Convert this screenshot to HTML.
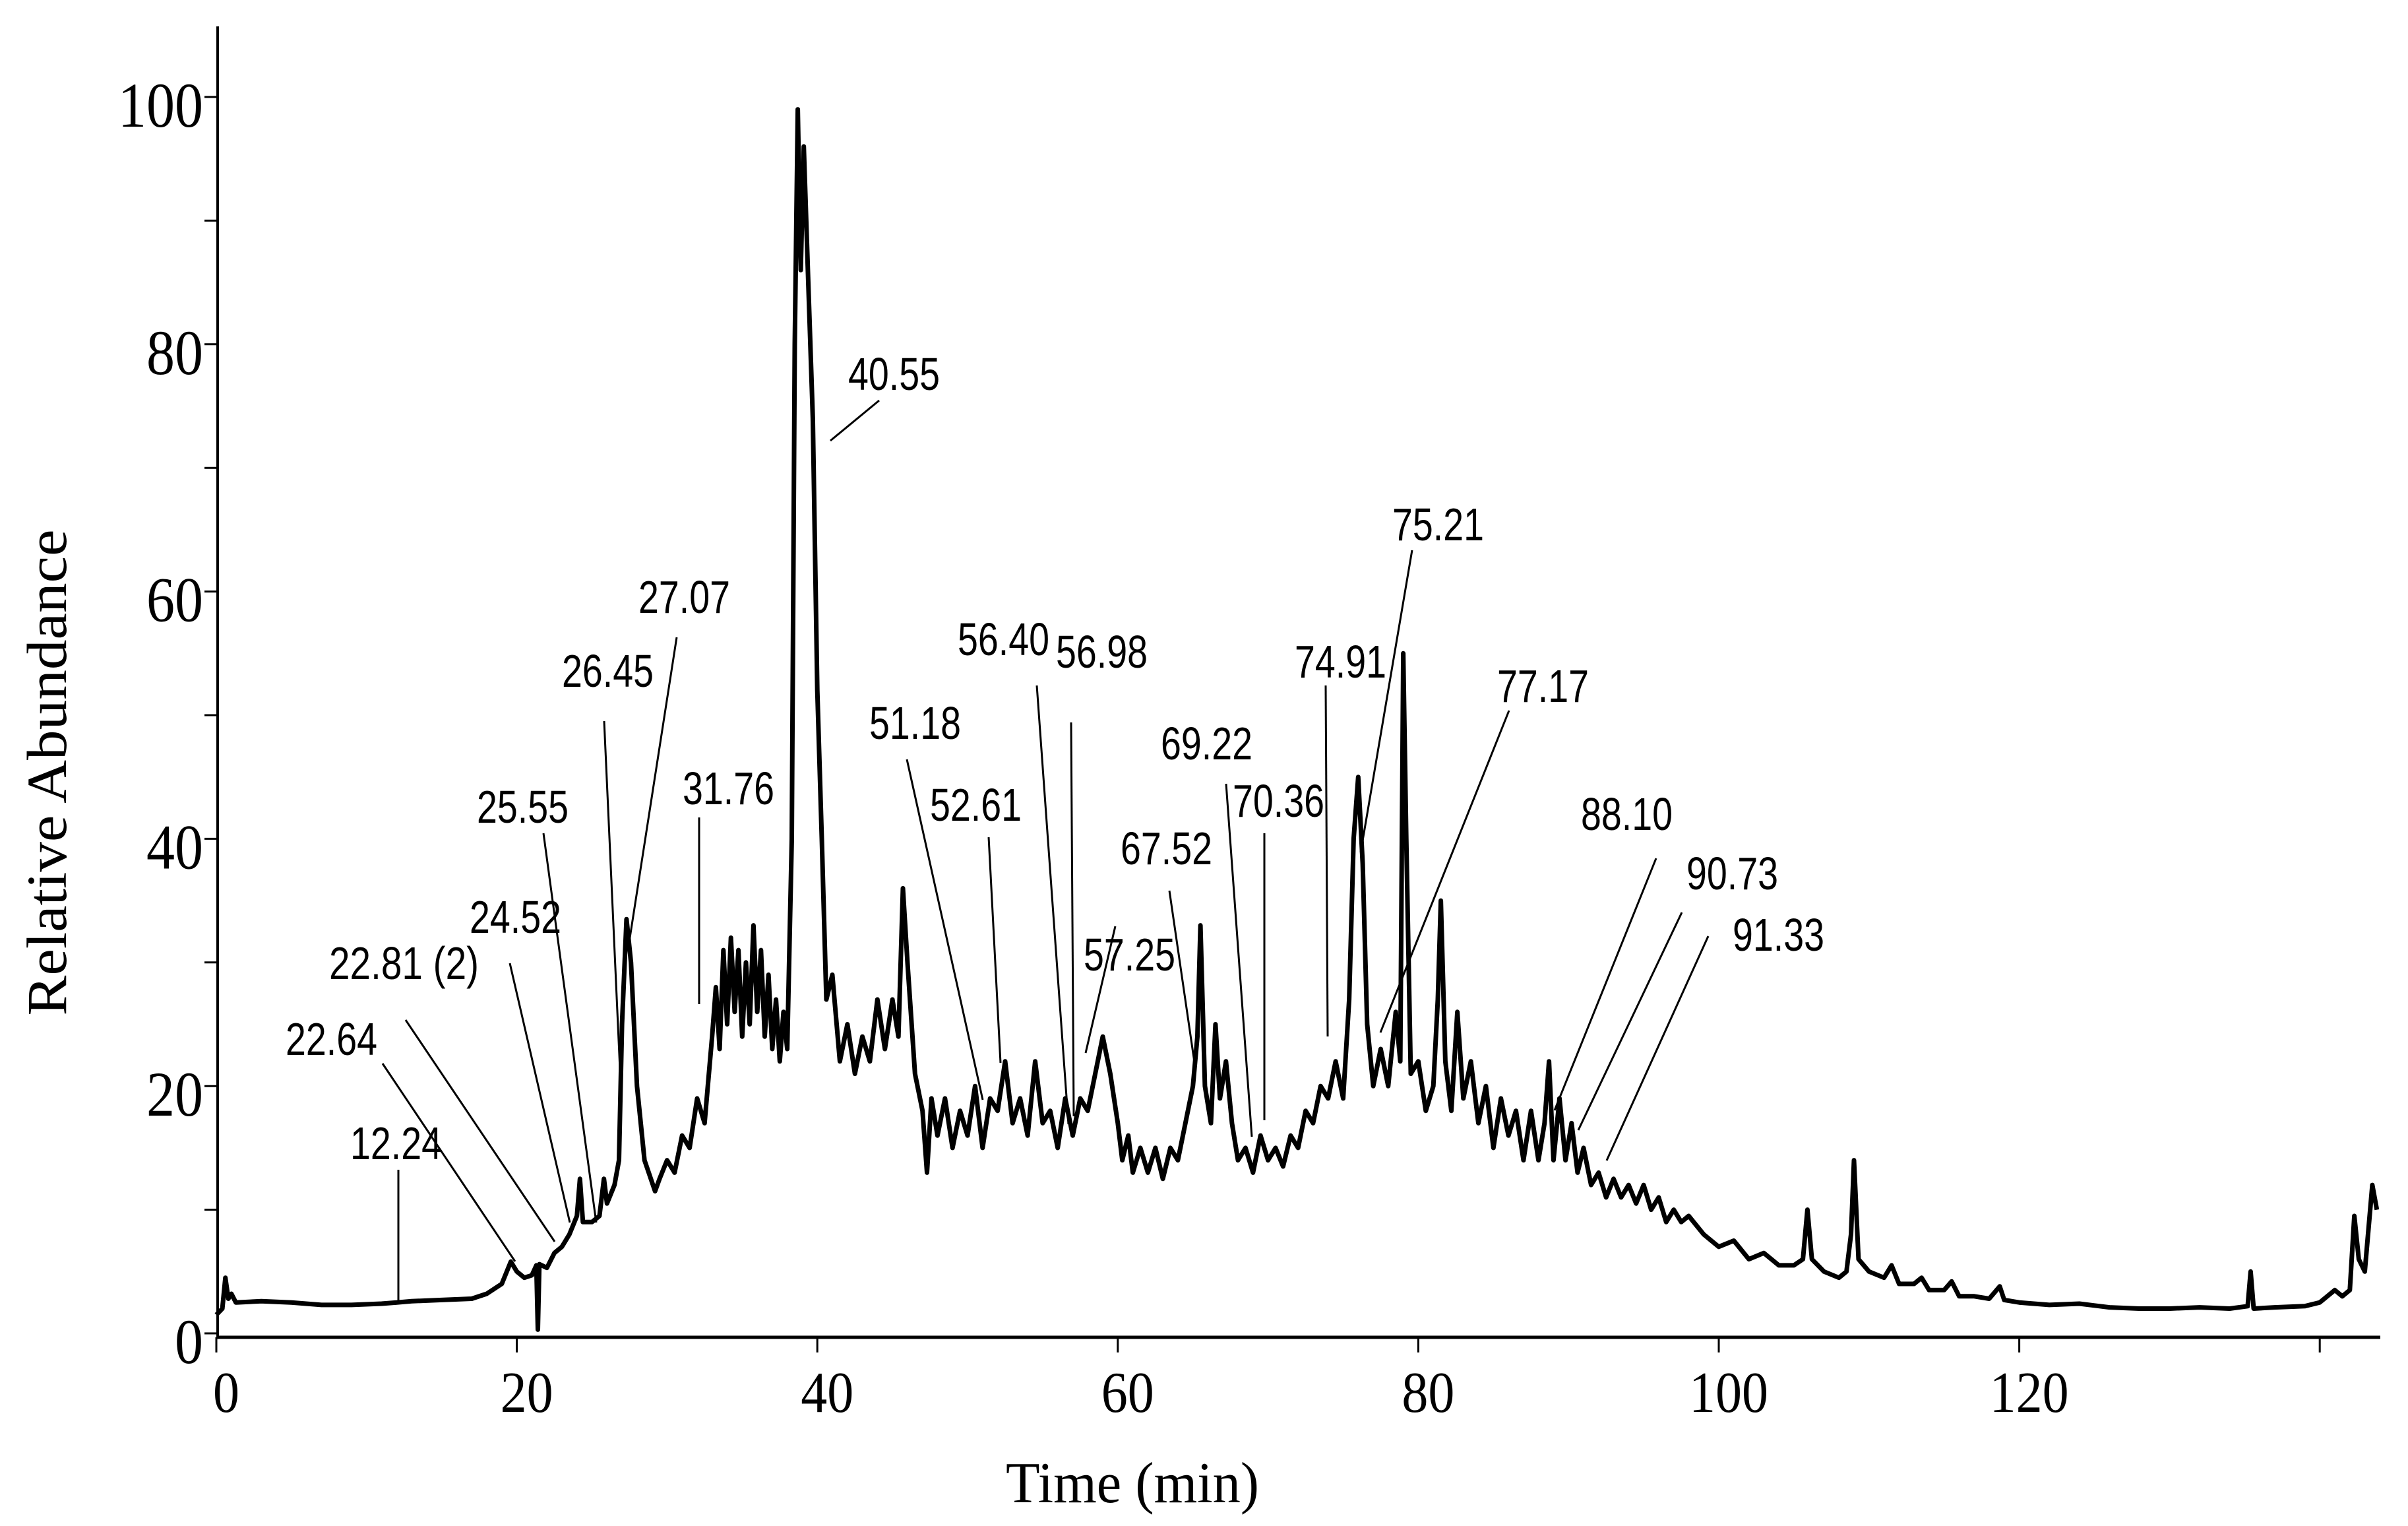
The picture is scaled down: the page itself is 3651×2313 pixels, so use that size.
<!DOCTYPE html>
<html><head><meta charset="utf-8"><style>
html,body{margin:0;padding:0;background:#fff;}
svg{display:block;}
</style></head><body>
<svg id="chart" width="3651" height="2313" viewBox="0 0 3651 2313" xmlns="http://www.w3.org/2000/svg">
<rect width="3651" height="2313" fill="#fff"/>
<g id="axes"></g>
<g id="trace"></g>
<g id="labels"></g>
<text x="0" y="0" transform="translate(100,1171) rotate(-90)" text-anchor="middle" font-family="Liberation Serif, serif" font-size="86" textLength="737" lengthAdjust="spacingAndGlyphs">Relative  Abundance</text>
<text x="1717" y="2277" text-anchor="middle" font-family="Liberation Serif, serif" font-size="88" textLength="384" lengthAdjust="spacingAndGlyphs">Time (min)</text>
</svg>
<script>
const times = [0,0.4,0.6,0.8,1,1.3,3,5,7,9,11,12,13,15,17,18,19,19.6,20,20.5,21,21.3,21.4,21.5,22,22.5,23,23.5,24,24.2,24.4,25,25.5,25.8,26,26.5,26.8,
27.0,27.3,27.6,28.0,28.5,29.2,29.5,30.0,30.5,31.0,31.5,32.0,32.5,33.0,33.25,33.5,33.75,34.0,34.25,34.5,34.75,35.0,35.25,35.5,35.75,36.0,36.25,36.5,36.75,37.0,37.25,37.5,37.75,38.0,38.3,38.5,38.7,38.9,39.1,39.4,39.7,40.0,40.3,40.6,41.0,41.5,42.0,42.5,43.0,43.5,44.0,44.5,45.0,45.4,45.7,46.0,46.5,47.0,47.3,47.6,48.0,48.5,49.0,49.5,50.0,50.5,51.0,51.5,52.0,52.5,53.0,53.5,54.0,54.5,55.0,55.5,56.0,56.5,57.0,57.5,58.0,58.5,59.0,59.5,60.0,60.3,60.7,61.0,61.5,62.0,62.5,63.0,63.5,64.0,64.5,65.0,65.3,65.5,65.8,66.2,66.5,66.8,67.2,67.6,68.0,68.5,69.0,69.5,70.0,70.5,71.0,71.5,72.0,72.5,73.0,73.5,74.0,74.5,75.0,75.4,75.7,76.0,76.3,76.6,77.0,77.5,78.0,78.5,78.8,79.0,79.2,79.5,80.0,80.5,81.0,81.3,81.5,81.8,82.2,82.6,83.0,83.5,84.0,84.5,85.0,85.5,86.0,86.5,87.0,87.5,88.0,88.4,88.7,89.0,89.4,89.8,90.2,90.6,91.0,91.5,92.0,92.5,93.0,93.5,94.0,94.5,95.0,95.5,96.0,96.5,97.0,97.5,98.0,99.0,100,101,102,103,104,105,105.6,105.9,106.2,107,108,108.5,108.8,109.0,109.3,110,111,111.5,112,113,113.5,114,115,115.5,116,117,118,118.7,119,120,122,124,126,128,130,132,134,135.2,135.4,135.6,137,139,140,141,141.5,142,142.3,142.6,143,143.5,143.8];
const abundance = [1.5,2,4.5,2.8,3.2,2.5,2.6,2.5,2.3,2.3,2.4,2.5,2.6,2.7,2.8,3.2,4,5.8,5,4.5,4.7,5.5,0.3,5.6,5.3,6.5,7,8,9.5,12.5,9,9,9.5,12.5,10.5,12,14,
25,33.5,30,20,14,11.5,12.5,14,13,16,15,19,17,24,28,23,31,25,32,26,31,24,30,25,33,26,31,24,29,23,27,22,26,23,40,80,99,86,96,85,74,52,40,27,29,22,25,21,24,22,27,23,27,24,36,30,21,18,13,19,16,19,15,18,16,20,15,19,18,22,17,19,16,22,17,18,15,19,16,19,18,21,24,21,17,14,16,13,15,13,15,12.5,15,14,17,20,24,33,20,17,25,19,22,17,14,15,13,16,14,15,13.5,16,15,18,17,20,19,22,19,27,40,45,38,25,20,23,20,26,22,55,40,21,22,18,20,27,35,22,18,26,19,22,17,20,15,19,16,18,14,18,14,17,22,14,19,14,17,13,15,12,13,11,12.5,11,12,10.5,12,10,11,9,10,9,9.5,8,7,7.5,6,6.5,5.5,5.5,6,10,6,5,4.5,5,8,14,6,5,4.5,5.5,4,4,4.5,3.5,3.5,4.2,3,3,2.8,3.8,2.7,2.5,2.3,2.4,2.1,2,2,2.1,2,2.2,5,2,2.1,2.2,2.5,3.5,3,3.5,9.5,6,5,12,10];
const xTicks = [0,20,40,60,80,100,120,140];
const xTickLabels = ["0","20","40","60","80","100","120",""];
const yTicks = [0,10,20,30,40,50,60,70,80,90,100];
const yTickLabels = ["0","","20","","40","","60","","80","","100"];
const peakLabels = ["12.24","22.64","22.81 (2)","24.52","25.55","26.45","27.07","31.76","40.55","51.18","52.61","56.40","56.98","57.25","67.52","69.22","70.36","74.91","75.21","77.17","88.10","90.73","91.33"];

const NS="http://www.w3.org/2000/svg";
function x(t){return 328+22.78*t;}
function y(v){return 2021-18.74*v;}
function mk(tag,attrs,parent){const e=document.createElementNS(NS,tag);for(const k in attrs)e.setAttribute(k,attrs[k]);parent.appendChild(e);return e;}

const axes=document.getElementById('axes');
let yl=mk('line',{x1:330,y1:40,x2:330,y2:2027,stroke:'#000','stroke-width':4},axes);


let xl=mk('line',{x1:328,y1:2027,x2:3609,y2:2027,stroke:'#000','stroke-width':5},axes);


xTicks.forEach((t,i)=>{
  const tk=mk('line',{x1:x(t),y1:2027,x2:x(t),y2:2050,stroke:'#000','stroke-width':3},axes);
  
  
  if(xTickLabels[i]){
    const tx=mk('text',{x:x(t)+15,y:2140,'text-anchor':'middle','font-family':'Liberation Serif, serif','font-size':88,textLength:xTickLabels[i].length*40,lengthAdjust:'spacingAndGlyphs'},axes);
    tx.textContent=xTickLabels[i];
    
    
  }
});
yTicks.forEach((v,i)=>{
  const tk=mk('line',{x1:310,y1:y(v),x2:330,y2:y(v),stroke:'#000','stroke-width':3},axes);
  
  
  if(yTickLabels[i]){
    const tx=mk('text',{x:308,y:y(v)+45,'text-anchor':'end','font-family':'Liberation Serif, serif','font-size':96,textLength:yTickLabels[i].length*43,lengthAdjust:'spacingAndGlyphs'},axes);
    tx.textContent=yTickLabels[i];
    
    
  }
});

const trace=document.getElementById('trace');
let d='';
times.forEach((t,i)=>{d+=(i?'L':'M')+x(t).toFixed(1)+','+y(abundance[i]).toFixed(1);});
const p=mk('path',{d:d,fill:'none',stroke:'#000','stroke-width':7,'stroke-linejoin':'round'},trace);



// annotation layout (pixel positions of callouts)
const lay=[
 [531,1757,604,1773,604,1976],
 [433,1599,580,1612,781,1912],
 [499,1484,615,1546,841,1882],
 [712,1414,773,1460,864,1853],
 [723,1247,824,1263,904,1853],
 [852,1041,916,1093,940,1621],
 [968,929,1026,966,953,1434],
 [1035,1219,1060,1239,1060,1522],
 [1286,591,1333,607,1259,668],
 [1318,1120,1375,1151,1490,1667],
 [1410,1244,1499,1269,1517,1611],
 [1452,993,1572,1039,1620,1704],
 [1601,1012,1624,1095,1628,1692],
 [1643,1471,1691,1404,1646,1596],
 [1699,1310,1773,1350,1812,1617],
 [1760,1151,1859,1188,1898,1723],
 [1869,1238,1917,1263,1917,1698],
 [1963,1027,2010,1039,2013,1571],
 [2111,819,2141,834,2063,1292],
 [2270,1064,2288,1077,2093,1565],
 [2397,1258,2511,1301,2357,1683],
 [2557,1348,2550,1383,2393,1713],
 [2627,1441,2590,1419,2436,1759]
];
const lg=document.getElementById('labels');
peakLabels.forEach((s,i)=>{
  const L=lay[i];
  const tx=mk('text',{x:L[0],y:L[1],'font-family':'Liberation Sans, sans-serif','font-size':70,textLength:(s.length>5?227:139),lengthAdjust:'spacingAndGlyphs'},lg);
  tx.textContent=s;
  
  
  const ln=mk('line',{x1:L[2],y1:L[3],x2:L[4],y2:L[5],stroke:'#000','stroke-width':3},lg);
  
  
});
</script>
</body></html>
